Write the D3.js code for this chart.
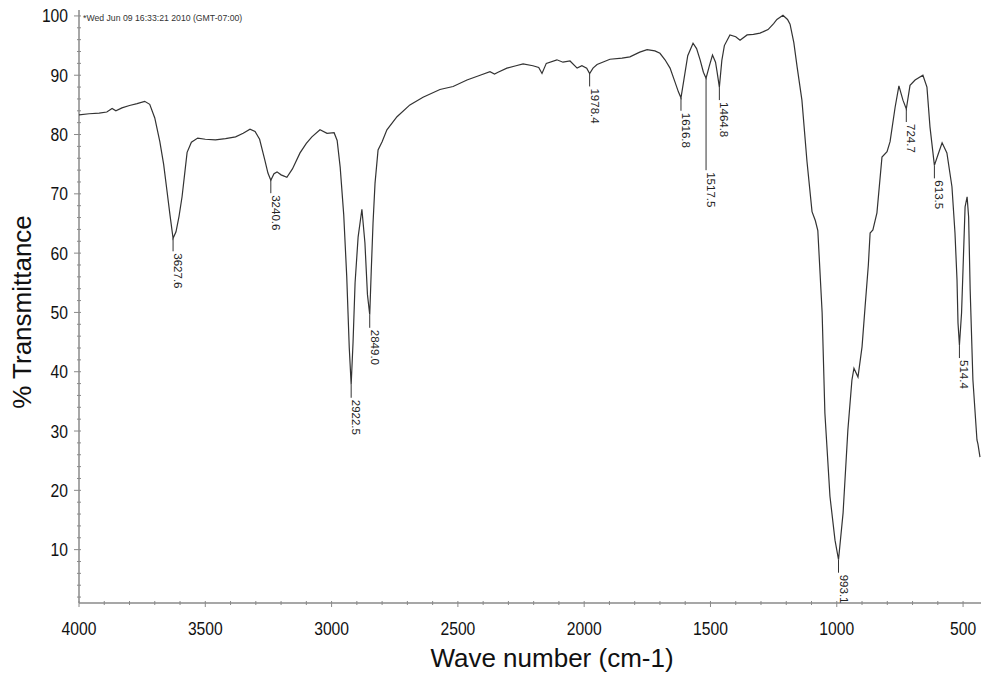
<!DOCTYPE html>
<html lang="en">
<head>
    <meta charset="UTF-8">
    <title>IR spectrum - % Transmittance</title>
    <style>
        body {
            margin: 0;
            background: #fff;
            font-family: "Liberation Sans", Arial, sans-serif;
        }
        .axis-line {
            stroke: #8a8a8a;
            stroke-width: 1.5px;
        }
        .tick-mark {
            stroke: #8a8a8a;
            stroke-width: 1px;
        }
        .tick-label {
            font-size: 18px;
            fill: #111;
        }
        .axis-title {
            font-size: 26px;
            fill: #111;
        }
        .spectrum {
            fill: none;
            stroke: #333;
            stroke-width: 1.2px;
        }
        .peak-line {
            stroke: #333;
            stroke-width: 1px;
        }
        .peak-label {
            font-size: 11.5px;
            fill: #222;
        }
        .stamp {
            font-size: 8.7px;
            fill: #333;
        }
    </style>
</head>
<body>
    <svg id="chart"></svg>

    <script src="https://d3js.org/d3.v7.min.js"></script>
    <script>
        // wavenumber (cm-1), % transmittance
        var spectrum = [
            [4000, 83.3], [3960, 83.5], [3920, 83.6], [3890, 83.8], [3869, 84.4], [3854, 84.0],
            [3830, 84.5], [3800, 84.9], [3770, 85.2], [3740, 85.6], [3720, 85.1], [3700, 82.8],
            [3680, 78.8], [3665, 75.0], [3652, 70.6], [3640, 66.5], [3627.6, 62.5], [3616, 63.6],
            [3604, 66.2], [3592, 69.5], [3580, 74.0], [3572, 77.0], [3555, 78.7], [3530, 79.4],
            [3500, 79.2], [3460, 79.1], [3420, 79.3], [3380, 79.6], [3350, 80.2], [3323, 80.9],
            [3303, 80.5], [3285, 79.2], [3265, 75.8], [3252, 73.5], [3240.6, 72.3], [3228, 73.4],
            [3216, 73.7], [3200, 73.2], [3177, 72.8], [3155, 74.2], [3125, 76.9], [3100, 78.5],
            [3078, 79.6], [3046, 80.8], [3018, 80.2], [2990, 80.3], [2978, 79.0], [2966, 74.5],
            [2952, 66.5], [2940, 56.0], [2930, 44.0], [2922.5, 37.8], [2915, 45.0], [2907, 55.0],
            [2895, 62.7], [2880, 67.4], [2868, 61.7], [2858, 53.0], [2849.0, 49.6], [2843, 57.0],
            [2836, 65.0], [2828, 71.8], [2816, 77.4], [2800, 78.8], [2781, 80.8], [2741, 83.0],
            [2690, 85.0], [2638, 86.3], [2571, 87.6], [2519, 88.1], [2464, 89.2], [2412, 90.0],
            [2373, 90.6], [2355, 90.2], [2341, 90.5], [2306, 91.2], [2270, 91.6], [2242, 91.9],
            [2203, 91.6], [2180, 91.3], [2167, 90.3], [2150, 92.0], [2108, 92.6], [2084, 92.2],
            [2056, 92.4], [2028, 91.2], [2009, 91.6], [1990, 91.2], [1978.4, 90.3], [1965, 91.2],
            [1949, 91.8], [1898, 92.7], [1850, 92.9], [1819, 93.1], [1780, 93.9], [1751, 94.3],
            [1720, 94.1], [1700, 93.7], [1680, 92.6], [1660, 91.2], [1640, 88.8], [1627, 87.2],
            [1616.8, 86.2], [1605, 89.3], [1590, 93.3], [1569, 95.4], [1555, 94.5], [1541, 92.6],
            [1528, 90.5], [1517.5, 89.5], [1505, 91.5], [1492, 93.4], [1480, 92.2], [1474, 90.6],
            [1464.8, 88.0], [1455, 92.5], [1445, 95.0], [1423, 96.8], [1400, 96.5], [1383, 95.9],
            [1355, 96.8], [1330, 96.9], [1304, 97.1], [1272, 97.7], [1250, 98.7], [1237, 99.4],
            [1213, 100.1], [1195, 99.4], [1185, 98.6], [1170, 95.5], [1157, 91.4], [1138, 85.8],
            [1118, 75.5], [1098, 67.0], [1085, 65.5], [1075, 63.8], [1058, 50.0], [1047, 33.0],
            [1027, 19.0], [1007, 11.6], [993.1, 8.3], [975, 16.2], [956, 30.2], [940, 38.6],
            [932, 40.6], [916, 39.1], [900, 44.2], [888, 50.9], [875, 58.0], [868, 63.4],
            [857, 63.9], [841, 66.8], [821, 76.2], [801, 77.1], [789, 78.8], [769, 84.6],
            [754, 88.2], [738, 85.8], [724.7, 84.3], [710, 88.3], [690, 89.2], [659, 90.0],
            [643, 88.0], [631, 81.3], [613.5, 74.8], [600, 76.5], [583, 78.6], [564, 76.9],
            [544, 71.2], [532, 63.4], [524, 55.5], [520, 48.2], [514.4, 44.5], [506, 49.9],
            [500, 57.5], [492, 67.8], [484, 69.5], [478, 66.1], [472, 54.0], [461, 38.6],
            [445, 28.5], [441, 27.8], [433, 25.6]
        ];

        var peakLabels = ["3627.6", "3240.6", "2922.5", "2849.0", "1978.4", "1616.8",
                          "1517.5", "1464.8", "993.1", "724.7", "613.5", "514.4"];

        var xTickValues = [4000, 3500, 3000, 2500, 2000, 1500, 1000, 500];
        var yTickValues = [10, 20, 30, 40, 50, 60, 70, 80, 90, 100];
        var stampText = "*Wed Jun 09 16:33:21 2010 (GMT-07:00)";

        var width = 981,
            height = 676;
        var margin = {left: 79, right: 0, top: 10, bottom: 73};

        var svg = d3.select("#chart")
            .attr("width", width)
            .attr("height", height);

        var x = d3.scaleLinear()
            .domain([4000, 429])
            .range([margin.left, width - margin.right]);

        var y = d3.scaleLinear()
            .domain([1, 101])
            .range([height - margin.bottom, margin.top]);

        var x0 = x.range()[0], x1 = x.range()[1];
        var y0 = y.range()[0], y1 = y.range()[1];

        // minor ticks
        var xMinor = d3.range(4000, 429, -100).filter(function(v) { return xTickValues.indexOf(v) < 0; });
        var yMinor = d3.range(2, 101, 2).filter(function(v) { return yTickValues.indexOf(v) < 0; });

        var axes = svg.append("g");

        axes.selectAll(".xminor").data(xMinor).enter().append("line")
            .attr("class", "tick-mark")
            .attr("x1", function(d) { return x(d); }).attr("x2", function(d) { return x(d); })
            .attr("y1", y0 - 2).attr("y2", y0 + 2);

        axes.selectAll(".xmajor").data(xTickValues).enter().append("line")
            .attr("class", "tick-mark")
            .attr("x1", function(d) { return x(d); }).attr("x2", function(d) { return x(d); })
            .attr("y1", y0 - 2).attr("y2", y0 + 4);

        axes.selectAll(".yminor").data(yMinor).enter().append("line")
            .attr("class", "tick-mark")
            .attr("x1", x0 - 2).attr("x2", x0 + 2)
            .attr("y1", function(d) { return y(d); }).attr("y2", function(d) { return y(d); });

        axes.selectAll(".ymajor").data(yTickValues).enter().append("line")
            .attr("class", "tick-mark")
            .attr("x1", x0 - 5).attr("x2", x0 + 2)
            .attr("y1", function(d) { return y(d); }).attr("y2", function(d) { return y(d); });

        axes.append("line").attr("class", "axis-line")
            .attr("x1", x0).attr("x2", x1).attr("y1", y0).attr("y2", y0);
        axes.append("line").attr("class", "axis-line")
            .attr("x1", x0).attr("x2", x0).attr("y1", y0).attr("y2", y1);

        // tick labels are a condensed face in the original, squeeze horizontally
        axes.selectAll(".xlabel").data(xTickValues).enter().append("text")
            .attr("class", "tick-label")
            .attr("transform", function(d) { return "translate(" + x(d) + "," + (y0 + 32) + ") scale(0.87,1)"; })
            .attr("text-anchor", "middle")
            .text(function(d) { return d; });

        axes.selectAll(".ylabel").data(yTickValues).enter().append("text")
            .attr("class", "tick-label")
            .attr("transform", function(d) { return "translate(" + (x0 - 11) + "," + y(d) + ") scale(0.87,1)"; })
            .attr("dy", "0.36em")
            .attr("text-anchor", "end")
            .text(function(d) { return d; });

        svg.append("text")
            .attr("class", "axis-title")
            .attr("x", 552)
            .attr("y", 667)
            .attr("text-anchor", "middle")
            .text("Wave number (cm-1)");

        svg.append("text")
            .attr("class", "axis-title")
            .attr("transform", "translate(31,312) rotate(-90)")
            .attr("text-anchor", "middle")
            .text("% Transmittance");

        svg.append("text")
            .attr("class", "stamp")
            .attr("x", x0 + 4)
            .attr("y", 21)
            .text(stampText);

        // spectrum trace
        var line = d3.line()
            .x(function(d) { return x(d[0]); })
            .y(function(d) { return y(d[1]); });

        svg.append("path")
            .datum(spectrum)
            .attr("class", "spectrum")
            .attr("d", line);

        // peak picks: short drop line then the rotated number
        function valueAt(w) {
            var p = spectrum.find(function(d) { return d[0] === w; });
            return p ? p[1] : 0;
        }
        var longDrop = {"1517.5": 92};

        var peaks = svg.append("g").selectAll("g")
            .data(peakLabels)
            .enter().append("g")
            .attr("transform", function(d) {
                return "translate(" + x(+d) + "," + y(valueAt(+d)) + ")";
            });

        peaks.append("line")
            .attr("class", "peak-line")
            .attr("x1", 0).attr("x2", 0)
            .attr("y1", 0)
            .attr("y2", function(d) { return longDrop[d] || 13; });

        peaks.append("text")
            .attr("class", "peak-label")
            .attr("transform", function(d) {
                return "translate(1," + ((longDrop[d] || 13) + 2) + ") rotate(90)";
            })
            .text(function(d) { return d; });
    </script>
</body>
</html>
